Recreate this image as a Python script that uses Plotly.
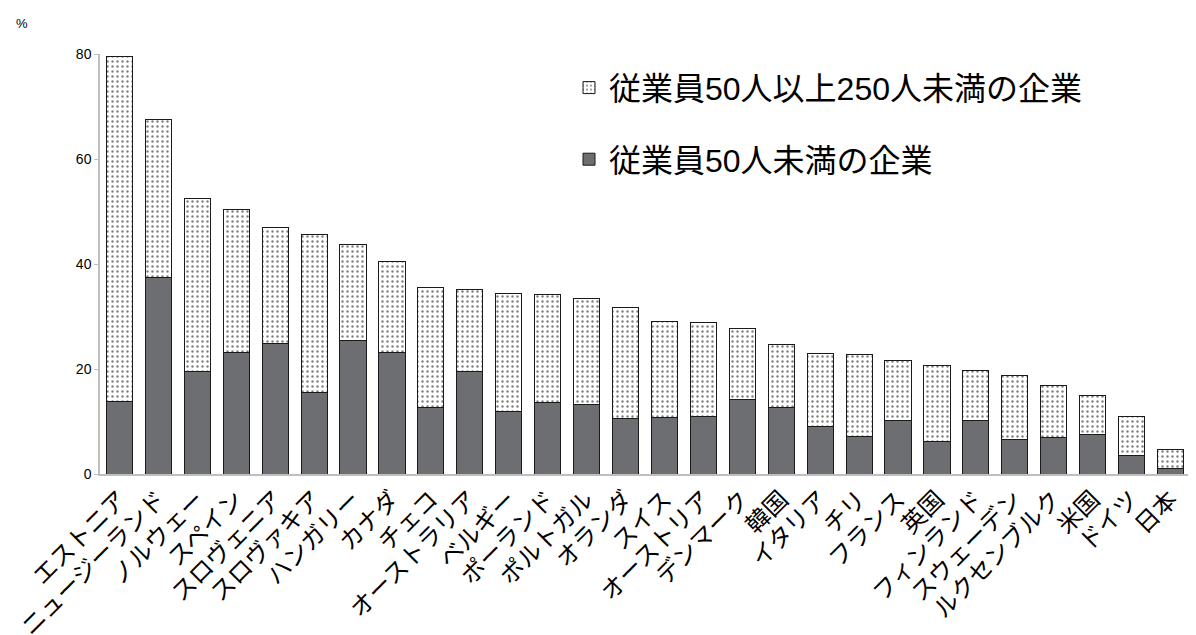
import plotly.graph_objects as go

countries = ["エストニア", "ニュージーランド", "ノルウェー", "スペイン", "スロヴェニア", "スロヴァキア",
             "ハンガリー", "カナダ", "チェコ", "オーストラリア", "ベルギー", "ポーランド", "ポルトガル",
             "オランダ", "スイス", "オーストリア", "デンマーク", "韓国", "イタリア", "チリ", "フランス",
             "英国", "フィンランド", "スウェーデン", "ルクセンブルク", "米国", "ドイツ", "日本"]

small = [13.9, 37.5, 19.6, 23.2, 24.8, 15.6, 25.5, 23.2, 12.6, 19.6, 12.0, 13.7, 13.3, 10.5,
         10.7, 11.0, 14.1, 12.6, 9.0, 7.2, 10.1, 6.1, 10.1, 6.5, 7.0, 7.6, 3.6, 1.0]

medium = [65.7, 30.1, 32.8, 27.1, 22.1, 30.1, 18.3, 17.2, 23.0, 15.6, 22.3, 20.4, 20.2, 21.3,
          18.4, 17.9, 13.7, 12.0, 13.9, 15.5, 11.6, 14.5, 9.7, 12.2, 9.8, 7.4, 7.4, 3.6]

yticks = [0, 20, 40, 60, 80]

name_small = "従業員50人未満の企業"
name_medium = "従業員50人以上250人未満の企業"

jp_font = "Noto Sans CJK JP"

L, R, T, B = 92, 14, 46, 169
PW = 1196 - L - R
PH = 635 - T - B

fig = go.Figure()
fig.add_trace(go.Bar(
    x=countries, y=small, name=name_small, legendgroup="s", legendrank=2,
    marker=dict(color="#6d6e71", line=dict(color="#1a1a1a", width=1)),
))
fig.add_trace(go.Bar(
    x=countries, y=medium, name=name_medium, legendgroup="m", legendrank=1,
    marker=dict(color="white", line=dict(color="#1a1a1a", width=1),
                pattern=dict(shape=".", fgcolor="black", bgcolor="white", size=5, solidity=0.18)),
))

fig.update_layout(
    width=1196, height=635,
    barmode="stack", bargap=0.33,
    plot_bgcolor="white", paper_bgcolor="white",
    margin=dict(l=L, r=R, t=T, b=B),
    font=dict(family="Liberation Sans, " + jp_font, color="black"),
    showlegend=True,
    legend=dict(
        x=(561 - L) / PW, y=0.985, xanchor="left", yanchor="top",
        traceorder="grouped", tracegroupgap=27,
        font=dict(family="Liberation Sans, " + jp_font, size=32, color="black"),
        bgcolor="rgba(0,0,0,0)",
    ),
    xaxis=dict(
        tickangle=-45, showline=True, linecolor="#bfbfbf", linewidth=1.5,
        ticks="", tickfont=dict(family=jp_font, size=24, color="black"),
        showgrid=False, automargin=False,
    ),
    yaxis=dict(
        range=[0, 80], tickvals=yticks, showline=True, linecolor="#bfbfbf", linewidth=1.5,
        ticks="outside", ticklen=4, tickcolor="#bfbfbf", showgrid=False, zeroline=False,
        tickfont=dict(family="Liberation Sans", size=14, color="black"),
    ),
    annotations=[dict(text="%", x=(6 - L) / PW, y=1 + (T - 15) / PH, xref="paper", yref="paper",
                      showarrow=False, font=dict(family="Liberation Sans", size=13, color="black"),
                      xanchor="left", yanchor="middle")],
)

fig.write_html("out.html")
